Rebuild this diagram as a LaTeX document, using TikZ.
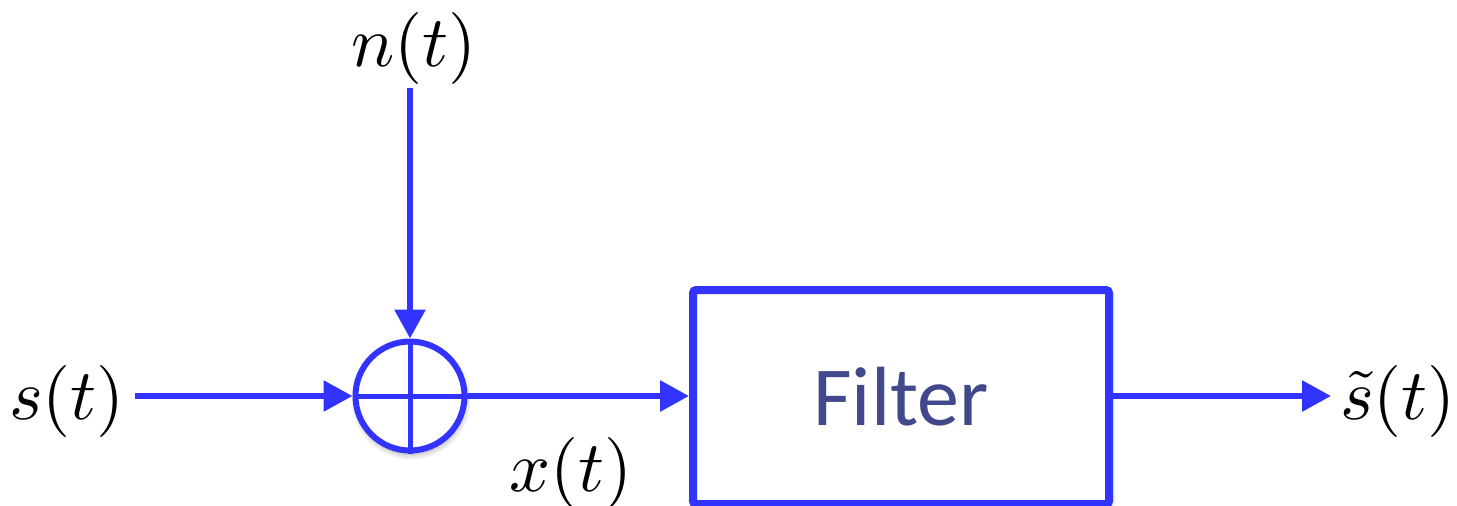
\documentclass[tikz,border=0pt]{standalone}
\usepackage{graphicx}
\usepackage{fontspec}
\newfontfamily\boxfont{Carlito}
\usetikzlibrary{arrows.meta,shadows.blur}
\definecolor{sigblue}{RGB}{51,51,255}
\definecolor{labelink}{RGB}{66,72,140}
% math labels: 10pt Computer Modern math, scaled up
\newcommand{\siglabel}[1]{\scalebox{3.6}{\fontsize{10}{12}\selectfont$#1$}}
\tikzset{
  wire/.style={draw=sigblue, line width=3pt, line cap=butt,
    -{Triangle[length=14.5pt,width=15pt]}},
  softshadow/.style={blur shadow={shadow xshift=0.5pt, shadow yshift=-2pt,
    shadow blur radius=3pt, shadow blur steps=8, shadow opacity=35}},
  sumnode/.style={circle, draw=sigblue, fill=white, line width=3pt,
    minimum size=54.5pt, inner sep=0pt, softshadow},
  blockbox/.style={rectangle, draw=sigblue, fill=white, line width=4pt,
    rounded corners=1.5pt, minimum width=208pt, minimum height=107pt,
    inner sep=0pt, softshadow},
  sig/.style={anchor=base, inner sep=0pt}
}
\begin{document}
\begin{tikzpicture}[x=0.5pt, y=-0.5pt]
  \useasboundingbox (0,0) rectangle (1457,505);

  % summing junction and filter block
  \node[sumnode] (sum) at (410,396) {};
  \draw[sigblue, line width=2.5pt] (sum.north) -- (sum.south)
                                    (sum.west) -- (sum.east);
  \node[blockbox] (filt) at (901,397) {};
  \node[anchor=base, inner sep=0pt, text=labelink,
        font=\boxfont\fontsize{42}{46}\selectfont] (filtxt) at (901,425) {Filter};

  % signal labels
  \node[sig] (slab)  at (67,419)   {\siglabel{s(t)}};
  \node[sig] (nlab)  at (414,66)   {\siglabel{n(t)}};
  \node[sig] (xlab)  at (571,491)  {\siglabel{x(t)}};
  \node[sig] (shlab) at (1398,419) {\siglabel{\tilde{s}(t)}};

  % free ends of the signal lines
  \coordinate (sin)  at (135,396);
  \coordinate (nin)  at (410,88);
  \coordinate (sout) at (1331,396);

  % connectors
  \draw[wire] (sin) -- (sum.west);
  \draw[wire] (nin) -- (sum.north);
  \draw[wire] (sum.east) -- (filt.west |- sum.east);
  \draw[wire] (filt.east |- sout) -- (sout);
\end{tikzpicture}
\end{document}
